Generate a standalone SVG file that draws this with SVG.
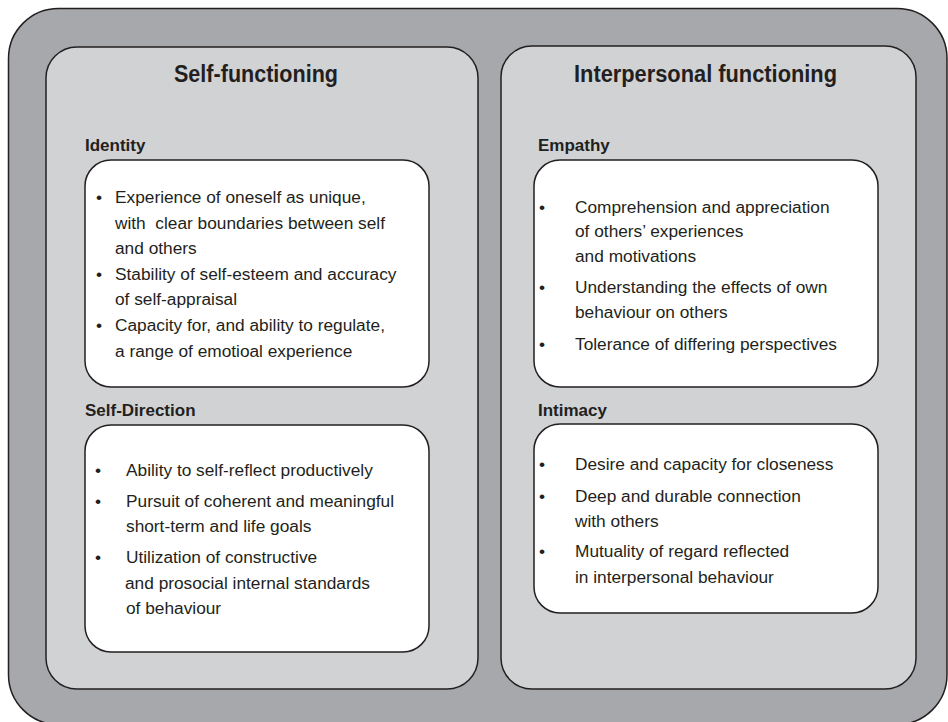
<svg xmlns="http://www.w3.org/2000/svg" width="948" height="722" viewBox="0 0 948 722">
  <style>
    .outer { fill: #a7a8ab; stroke: #231f20; stroke-width: 1.5; }
    .panel { fill: #d1d2d4; stroke: #231f20; stroke-width: 1.5; }
    .box { fill: #ffffff; stroke: #231f20; stroke-width: 1.5; }
    text { font-family: "Liberation Sans", Arial, sans-serif; fill: #231f20; }
    .title { font-size: 23px; font-weight: bold; }
    .label { font-size: 17px; font-weight: bold; }
    .item { font-size: 17.3px; }
  </style>

  <!-- outer frame -->
  <rect id="frame" class="outer" x="8.5" y="8.5" width="938.5" height="716" rx="50" ry="50"/>

  <!-- left column -->
  <g id="self-functioning">
    <rect class="panel" x="46" y="47" width="432" height="642" rx="31" ry="31"/>
    <text class="title" x="174" y="82" textLength="164" lengthAdjust="spacingAndGlyphs">Self-functioning</text>
  </g>

  <g id="identity">
    <text class="label" x="85" y="151">Identity</text>
    <rect class="box" x="85" y="160" width="344" height="227" rx="26" ry="26"/>
    <g class="item">
      <text x="96" y="203">•</text>
      <text x="115" y="203">Experience of oneself as unique,</text>
      <text x="115" y="229">with&#160; clear boundaries between self</text>
      <text x="115" y="254">and others</text>
      <text x="96" y="280">•</text>
      <text x="115" y="280">Stability of self-esteem and accuracy</text>
      <text x="115" y="305">of self-appraisal</text>
      <text x="96" y="331">•</text>
      <text x="115" y="331">Capacity for, and ability to regulate,</text>
      <text x="115" y="357">a range of emotioal experience</text>
    </g>
  </g>

  <g id="self-direction">
    <text class="label" x="85" y="416">Self-Direction</text>
    <rect class="box" x="85" y="425" width="344" height="227" rx="26" ry="26"/>
    <g class="item">
      <text x="95" y="476">•</text>
      <text x="126" y="476">Ability to self-reflect productively</text>
      <text x="95" y="507">•</text>
      <text x="126" y="507">Pursuit of coherent and meaningful</text>
      <text x="126" y="532">short-term and life goals</text>
      <text x="95" y="563">•</text>
      <text x="126" y="563">Utilization of constructive</text>
      <text x="125" y="589">and prosocial internal standards</text>
      <text x="126" y="614">of behaviour</text>
    </g>
  </g>

  <!-- right column -->
  <g id="interpersonal-functioning">
    <rect class="panel" x="501" y="46" width="415" height="643" rx="31" ry="31"/>
    <text class="title" x="574" y="82" textLength="263" lengthAdjust="spacingAndGlyphs">Interpersonal functioning</text>
  </g>

  <g id="empathy">
    <text class="label" x="538" y="151">Empathy</text>
    <rect class="box" x="534" y="160" width="344" height="227" rx="26" ry="26"/>
    <g class="item">
      <text x="539" y="213">•</text>
      <text x="575" y="213">Comprehension and appreciation</text>
      <text x="575" y="237">of others’ experiences</text>
      <text x="575" y="262">and motivations</text>
      <text x="539" y="293">•</text>
      <text x="575" y="293">Understanding the effects of own</text>
      <text x="575" y="318">behaviour on others</text>
      <text x="539" y="350">•</text>
      <text x="575" y="350">Tolerance of differing perspectives</text>
    </g>
  </g>

  <g id="intimacy">
    <text class="label" x="538" y="416">Intimacy</text>
    <rect class="box" x="534" y="424" width="344" height="189" rx="26" ry="26"/>
    <g class="item">
      <text x="539" y="470">•</text>
      <text x="575" y="470">Desire and capacity for closeness</text>
      <text x="539" y="502">•</text>
      <text x="575" y="502">Deep and durable connection</text>
      <text x="575" y="527">with others</text>
      <text x="539" y="557">•</text>
      <text x="575" y="557">Mutuality of regard reflected</text>
      <text x="575" y="583">in interpersonal behaviour</text>
    </g>
  </g>

  <!-- no connectors in this figure -->
  <g id="connectors"/>
</svg>
